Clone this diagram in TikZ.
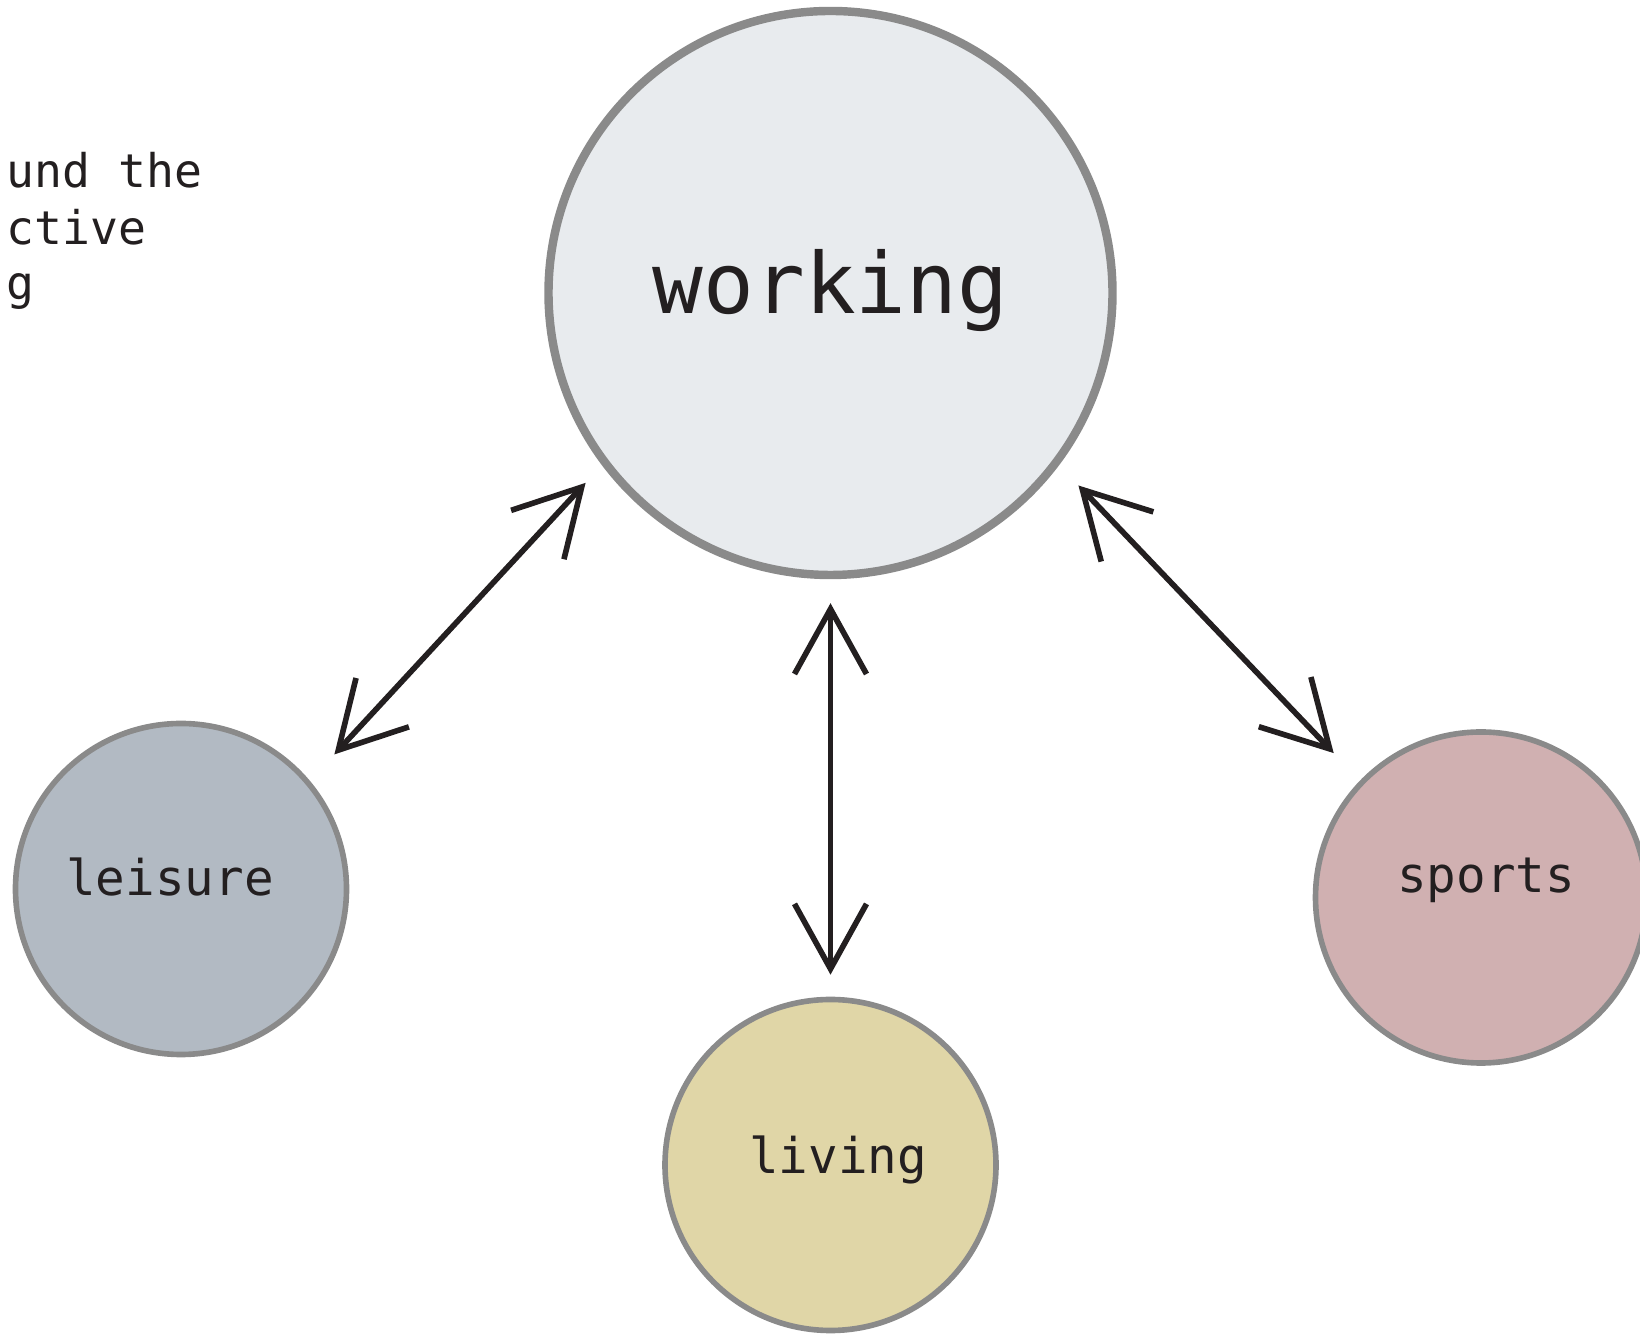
\documentclass[tikz,border=0pt]{standalone}
\usepackage{fontspec}
\setmonofont{DejaVu Sans Mono}
\usetikzlibrary{arrows.meta}
\definecolor{ringgray}{HTML}{8A8A8A}
\definecolor{inkdark}{HTML}{231F20}
\definecolor{workfill}{HTML}{E8EBEE}
\definecolor{leisurefill}{HTML}{B2BAC3}
\definecolor{livingfill}{HTML}{E0D6A7}
\definecolor{sportsfill}{HTML}{D0B0B1}

\begin{document}
\begin{tikzpicture}[
  bubble/.style={circle, draw=ringgray, line width=1.6pt, minimum size=3.31cm, inner sep=0pt},
  word/.style={anchor=base, inner sep=0pt, text=inkdark, font=\ttfamily\fontsize{14}{16}\selectfont},
  link/.style={<->, >={Straight Barb[length=0.65cm,width=0.72cm]}, line width=1.6pt, draw=inkdark}
]
  \useasboundingbox (0,0) rectangle (16.4,13.34);
  % Cut-off caption, top left
  \node[word, anchor=base west, font=\ttfamily\fontsize{13.2}{15}\selectfont] (capA) at (0.06,11.46) {und the};
  \node[word, anchor=base west, font=\ttfamily\fontsize{13.2}{15}\selectfont] (capB) at (0.06,10.89) {ctive};
  \node[word, anchor=base west, font=\ttfamily\fontsize{13.2}{15}\selectfont] (capC) at (0.06,10.34) {g};
  % Circles
  \node[bubble, fill=workfill, line width=2.4pt, minimum size=5.64cm] (working) at (8.305,10.41) {};
  \node[bubble, fill=leisurefill] (leisure) at (1.81,4.45) {};
  \node[bubble, fill=livingfill] (living) at (8.305,1.69) {};
  \node[bubble, fill=sportsfill] (sports) at (14.81,4.365) {};
  % Labels
  \node[word, font=\ttfamily\fontsize{24}{28}\selectfont] (workingText) at (8.305,10.20) {working};
  \node[word] (leisureText) at (1.70,4.38) {leisure};
  \node[word] (livingText) at (8.38,1.605) {living};
  \node[word] (sportsText) at (14.86,4.41) {sports};
  % Double arrows
  \draw[link, shorten <=0.24cm, shorten >=0.36cm] (working.217.07) -- (leisure.40.25);
  \draw[link, shorten <=0.24cm, shorten >=0.22cm] (working.south) -- (living.north);
  \draw[link, shorten <=0.28cm, shorten >=0.38cm] (working.323.7) -- (sports.136.5);
\end{tikzpicture}
\end{document}
